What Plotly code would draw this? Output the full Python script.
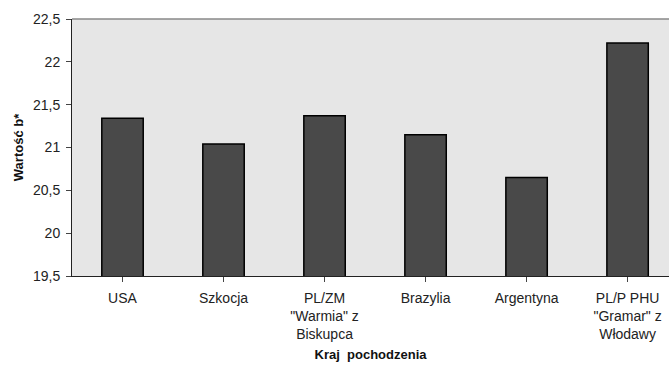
import plotly.graph_objects as go

categories = ["USA", "Szkocja", "PL/ZM<br>\"Warmia\" z<br>Biskupca", "Brazylia", "Argentyna",
              "PL/P PHU<br>\"Gramar\" z<br>Włodawy"]
values = [21.34, 21.04, 21.37, 21.15, 20.65, 22.22]
y_ticks = [19.5, 20, 20.5, 21, 21.5, 22, 22.5]

font_family = "Liberation Sans, Arial, sans-serif"

fig = go.Figure(go.Bar(
    x=list(range(len(categories))),
    y=values,
    marker=dict(color="#494949", line=dict(color="#000000", width=1.5)),
    width=0.41,
))

fig.update_layout(
    width=669, height=372,
    margin=dict(l=72, r=0, t=19, b=96),
    paper_bgcolor="white",
    plot_bgcolor="#e6e6e6",
    separators=", ",
    showlegend=False,
    font=dict(family=font_family, size=14, color="#222222"),
    xaxis=dict(
        tickmode="array",
        tickvals=list(range(len(categories))),
        ticktext=categories,
        range=[-0.5, 5.41],
        tickson="boundaries",
        ticks="outside", ticklen=5, tickcolor="#444444",
        showline=True, linecolor="#222222", linewidth=1,
        showgrid=False, zeroline=False,
        tickangle=0,
        ticklabelstandoff=4,
        title=dict(text="<b>Kraj  pochodzenia</b>", font=dict(size=13, color="#111111"), standoff=8),
    ),
    yaxis=dict(
        range=[19.5, 22.5],
        tickmode="array", tickvals=y_ticks,
        ticks="outside", ticklen=5, tickcolor="#444444",
        showline=True, linecolor="#222222", linewidth=1,
        showgrid=False, zeroline=False,
        ticklabelstandoff=3,
        title=dict(text="<b>Wartość b*</b>", font=dict(size=13, color="#111111"), standoff=6),
    ),
    shapes=[dict(type="line", xref="paper", yref="paper", x0=0, x1=1, y0=1, y1=1,
                 line=dict(color="#888888", width=1.5))],
)

fig.write_html("out.html",
               config={"displayModeBar": False},
               post_script="document.body.style.margin='0';document.body.style.overflow='hidden';")
